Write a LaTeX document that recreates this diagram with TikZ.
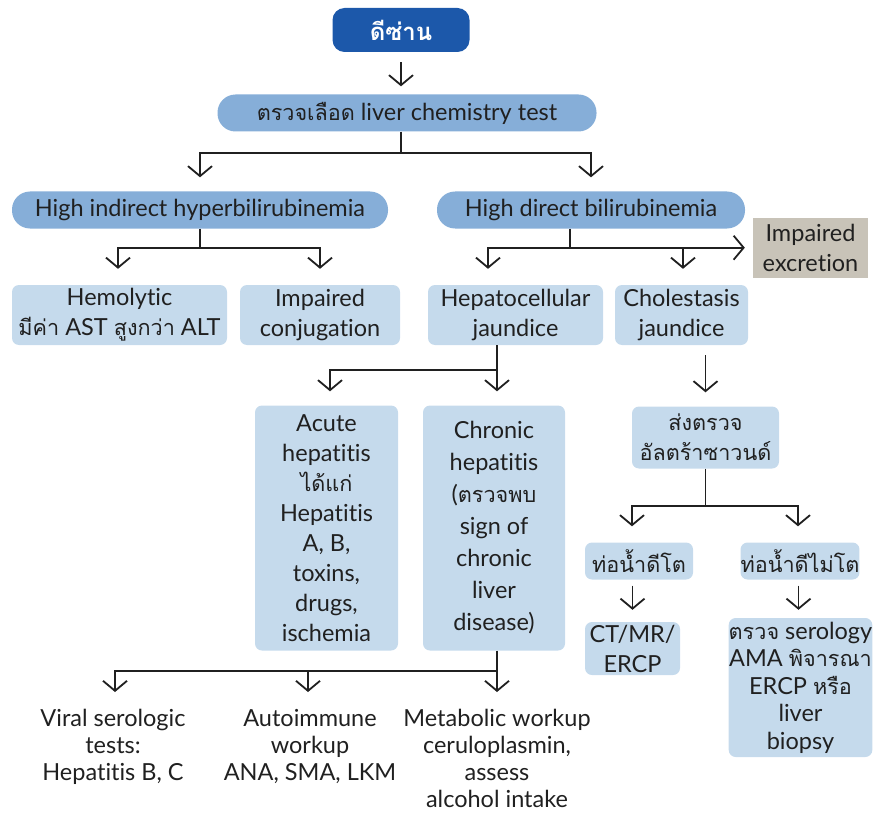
\documentclass[tikz,border=0pt]{standalone}
\usepackage{fontspec}
\setmainfont{Lato}[Ligatures=NoCommon]
\newfontfamily\thai[Script=Thai,Scale=0.92]{Loma}
\usetikzlibrary{arrows.meta,calc}
\definecolor{topblue}{RGB}{28,88,170}
\definecolor{pillblue}{RGB}{134,174,216}
\definecolor{paleblue}{RGB}{197,218,236}
\definecolor{greybox}{RGB}{200,195,184}
\definecolor{ink}{RGB}{32,32,32}

\begin{document}
\begin{tikzpicture}[x=1pt,y=-1pt,
  every node/.style={font=\fontsize{23.5}{30}\selectfont, text=ink, align=center, inner sep=0pt},
  pill/.style={fill=pillblue, rounded corners=18pt, minimum height=37pt},
  card/.style={fill=paleblue, rounded corners=7pt},
  conn/.style={draw=ink, line width=1.8pt},
  arr/.style={conn, -{Straight Barb[length=10pt,width=24pt]}},
]
\useasboundingbox (0,0) rectangle (875,813);

% boxes
\node[fill=topblue, rounded corners=12pt, minimum width=137pt, minimum height=44pt,
      text=white, font=\thai\bfseries\fontsize{26}{28}\selectfont] (top) at (401,30) {ดีซ่าน};
\node[pill, minimum width=379pt] (lct) at (407,113) {{\thai ตรวจเลือด} liver chemistry test};
\node[pill, minimum width=376pt] (hi) at (200,210) {High indirect hyperbilirubinemia};
\node[pill, minimum width=308pt] (hd) at (591,210) {High direct bilirubinemia};
\node[fill=greybox, minimum width=115pt, minimum height=60pt] (ie) at (810.5,248) {Impaired\\excretion};

\node[card, minimum width=215pt, minimum height=60pt] (hem) at (119.5,315) {Hemolytic\\{\thai มีค่า} AST {\thai สูงกว่า} ALT};
\node[card, minimum width=160pt, minimum height=60pt] (ic) at (320,315) {Impaired\\conjugation};
\node[card, minimum width=175pt, minimum height=60pt] (hc) at (515.5,315) {Hepatocellular\\jaundice};
\node[card, minimum width=133pt, minimum height=60pt] (cj) at (681.5,315) {Cholestasis\\jaundice};

\node[card, minimum width=143pt, minimum height=245pt] (ah) at (326.5,528)
  {Acute\\hepatitis\\{\thai ได้แก่}\\Hepatitis\\A, B,\\toxins,\\drugs,\\ischemia};
\node[card, minimum width=142pt, minimum height=245pt, font=\fontsize{23.5}{32}\selectfont] (ch) at (494,528)
  {Chronic\\hepatitis\\({\thai ตรวจพบ}\\sign of\\chronic\\liver\\disease)};

\node[card, minimum width=147pt, minimum height=62pt] (us) at (705.5,437.5) {{\thai ส่งตรวจ}\\{\thai อัลตร้าซาวนด์}};
\node[card, minimum width=108pt, minimum height=37pt] (bdy) at (639,561) {\thai ท่อน้ำดีโต};
\node[card, minimum width=114pt, minimum height=37pt] (bdn) at (800,561) {\thai ท่อน้ำดีไม่โต};
\node[card, minimum width=95pt, minimum height=53pt] (ct) at (632.5,648.5) {CT/MR/\\ERCP};
\node[card, minimum width=131pt, minimum height=139pt, font=\fontsize{23.5}{27.5}\selectfont] (ser) at (800.5,687.5)
  {{\thai ตรวจ} serology\\AMA {\thai พิจารณา}\\ERCP {\thai หรือ}\\liver\\biopsy};

\node[anchor=north, font=\fontsize{23.5}{27}\selectfont] (vir) at (113,709) {Viral serologic\\tests:\\Hepatitis B, C};
\node[anchor=north, font=\fontsize{23.5}{27}\selectfont] (aut) at (310,709) {Autoimmune\\workup\\ANA, SMA, LKM};
\node[anchor=north, font=\fontsize{23.5}{27}\selectfont] (met) at (497,709) {Metabolic workup\\ceruloplasmin,\\assess\\alcohol intake};

% connectors
\draw[arr, shorten <=10pt, shorten >=8pt] (top.south) -- (top.south |- lct.north);

\draw[conn] (top |- lct.south) -- ++(0,21) coordinate (j1);
\draw[arr, shorten >=14pt] (j1) -| (hi.north);
\draw[arr, shorten >=14pt] (j1) -| (hd.north);

\draw[conn] (hi.south) -- ++(0,19) coordinate (j2);
\draw[arr, shorten >=16pt] (j2) -| ($(hem.north)+(-1.5,0)$);
\draw[arr, shorten >=16pt] (j2) -| (ic.north);

\draw[conn] ($(hd.south)+(-21,0)$) -- ++(0,19) coordinate (j3);
\draw[arr, shorten >=16pt] (j3) -| ($(hc.north)+(-27.5,0)$);
\draw[arr, shorten >=16pt] (j3) -| ($(cj.north)+(1.5,0)$);
\draw[arr, shorten >=8pt] (j3) -- (j3 -| ie.west);

\draw[conn] ($(hc.south)+(-18.5,0)$) -- ++(0,25) coordinate (j4);
\draw[arr, shorten >=14pt] (j4) -| ($(ah.north)+(3.5,0)$);
\draw[arr, shorten >=14pt] (j4) -- (j4 |- ch.north);

\draw[conn] ($(ch.south)+(3,0)$) -- ++(0,20) coordinate (j5);
\draw[arr, shorten >=17pt] (j5) -| ($(vir.north)+(2,0)$);
\draw[arr, shorten >=17pt] (j5) -| ($(aut.north)+(-2,0)$);
\draw[arr, shorten >=17pt] (j5) -- (j5 |- met.north);

\draw[arr, shorten <=10pt, shorten >=14pt] (us.north |- cj.south) -- (us.north);

\draw[conn] (us.south) -- ++(0,37) coordinate (j6);
\draw[arr, shorten >=16pt] (j6) -| ($(bdy.north)+(-7,0)$);
\draw[arr, shorten >=16pt] (j6) -| ($(bdn.north)+(-2,0)$);

\draw[arr, shorten <=6pt, shorten >=12pt] (ct.north |- bdy.south) -- (ct.north);
\draw[arr, shorten <=6pt, shorten >=8pt] ($(ser.north |- bdn.south)+(-2,0)$) -- ($(ser.north)+(-2,0)$);
\end{tikzpicture}
\end{document}
